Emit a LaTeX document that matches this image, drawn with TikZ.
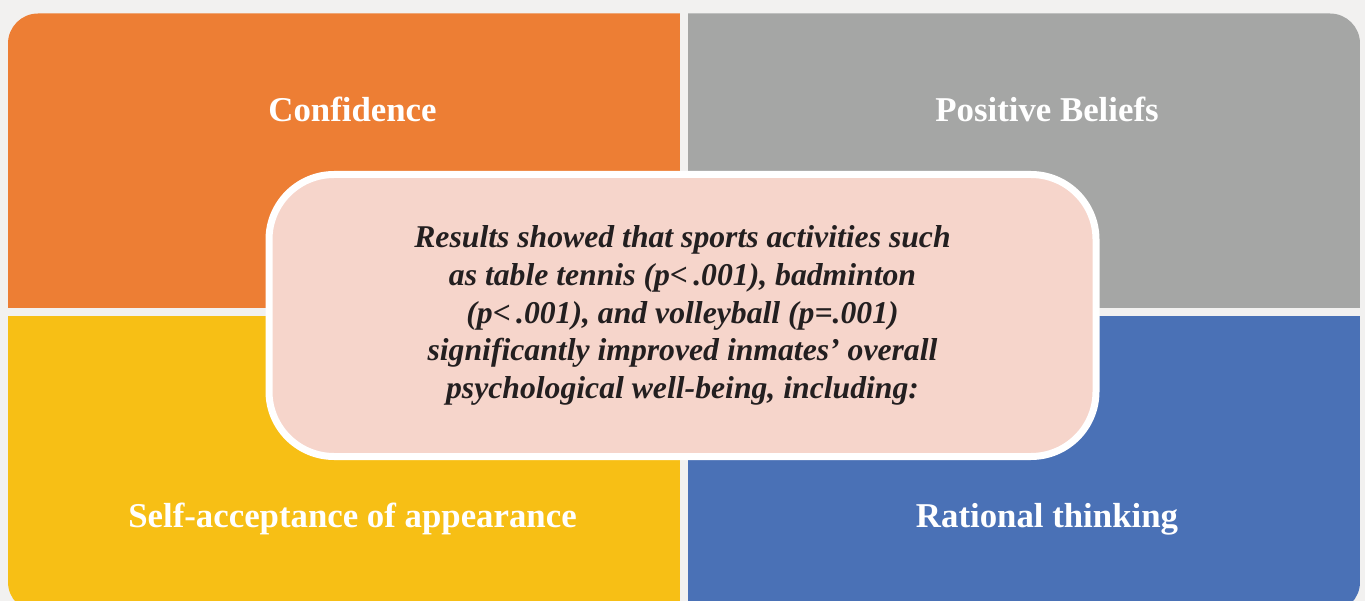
\documentclass[tikz,border=0pt]{standalone}
\usepackage{fontspec}
\setmainfont{Liberation Serif}
\definecolor{bgc}{HTML}{F2F1F0}
\definecolor{orng}{HTML}{ED7E34}
\definecolor{grayq}{HTML}{A5A6A5}
\definecolor{yel}{HTML}{F7BF15}
\definecolor{blu}{HTML}{4A71B6}
\definecolor{pinkc}{HTML}{F6D5CB}
\definecolor{inkc}{HTML}{231F20}
\tikzset{
  quadtitle/.style={text=white, font=\fontsize{34.8}{40}\selectfont\bfseries, anchor=base, inner sep=0pt},
  summary/.style={draw=white, line width=7pt, fill=pinkc, rounded corners=65pt,
    minimum width=827pt, minimum height=282pt, align=center, text=inkc,
    font=\fontsize{31.7}{37.7}\selectfont\bfseries\itshape}
}
\begin{document}
\begin{tikzpicture}[x=1pt,y=1pt]
\useasboundingbox (0,0) rectangle (1365,-601);
\fill[bgc] (0,0) rectangle (1365,-601);
% four coloured quadrants, outer corners rounded
\begin{scope}
  \clip[rounded corners=30pt] (8,-13.5) rectangle (1360,-612);
  \fill[orng]  (8,-13.5)   rectangle (680,-308);
  \fill[grayq] (688,-13.5) rectangle (1360,-308);
  \fill[yel]   (8,-316.5)  rectangle (680,-612);
  \fill[blu]   (688,-316.5) rectangle (1360,-612);
\end{scope}
% quadrant titles
\node[quadtitle] (conf) at (352.5,-122) {Confidence};
\node[quadtitle] (belief) at (1047,-122) {Positive Beliefs};
\node[quadtitle] (accept) at (352.5,-527) {Self-acceptance of appearance};
\node[quadtitle] (rational) at (1047,-527) {Rational thinking};
% central summary box
\node[summary] (center) at (682.5,-315.5) {Results showed that sports activities such\\
as table tennis (p<\,.001), badminton\\
(p<\,.001), and volleyball (p=.001)\\
significantly improved inmates’ overall\\
psychological well-being, including:};
\end{tikzpicture}
\end{document}
